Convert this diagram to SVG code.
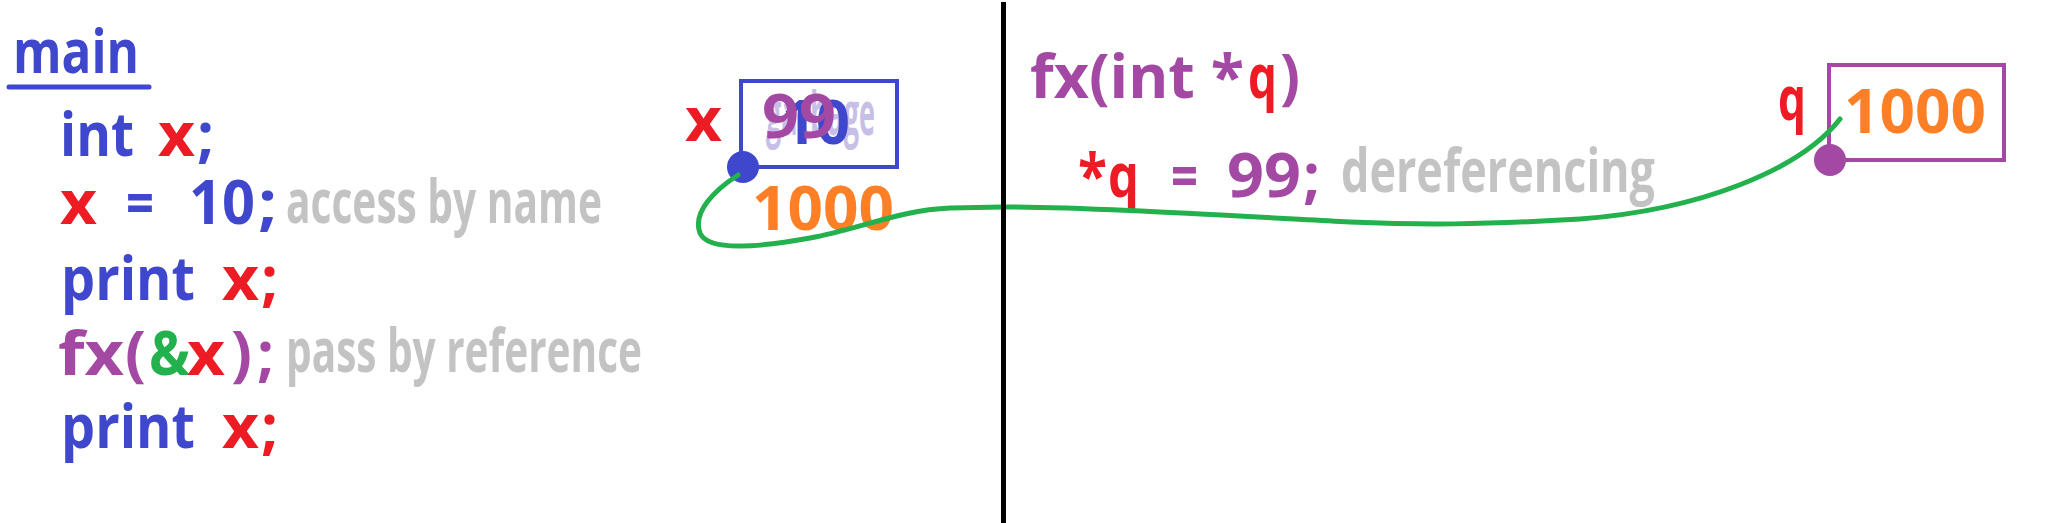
<svg xmlns="http://www.w3.org/2000/svg" width="2060" height="523" viewBox="0 0 2060 523">
<style>
.c{font-family:"Open Sans","DejaVu Sans",sans-serif;font-weight:700;font-size:61px}
.k{font-family:"Open Sans","DejaVu Sans",sans-serif;font-weight:700;font-size:60px;fill:#c3c3c3}
.b{fill:#3f48cc}.r{fill:#ed1c24}.p{fill:#a349a4}.gr{fill:#22b14c}.o{fill:#ff7f27}.lv{fill:#c8bfe7}
</style>
<rect width="2060" height="523" fill="#ffffff"/>
<g id="main-code">
<text class="c b" x="13" y="73" font-size="58" textLength="126" lengthAdjust="spacingAndGlyphs">main</text>
<line x1="9" y1="87" x2="149" y2="87" stroke="#3f48cc" stroke-width="5" stroke-linecap="round"/>
<text class="c b" x="60" y="156" textLength="74" lengthAdjust="spacingAndGlyphs">int</text>
<text class="c r" x="158" y="156" textLength="37" lengthAdjust="spacingAndGlyphs">x</text>
<text class="c b" x="197" y="156" textLength="17" lengthAdjust="spacingAndGlyphs">;</text>
<text class="c r" x="60" y="224" textLength="37" lengthAdjust="spacingAndGlyphs">x</text>
<text class="c b" x="126" y="224" textLength="28" lengthAdjust="spacingAndGlyphs">=</text>
<text class="c b" x="189" y="224" textLength="66" lengthAdjust="spacingAndGlyphs">10</text>
<text class="c b" x="258" y="224" textLength="19" lengthAdjust="spacingAndGlyphs">;</text>
<text class="k" x="286" y="223" textLength="316" lengthAdjust="spacingAndGlyphs">access by name</text>
<text class="c b" x="61" y="300" textLength="134" lengthAdjust="spacingAndGlyphs">print</text>
<text class="c r" x="222" y="300" textLength="37" lengthAdjust="spacingAndGlyphs">x</text>
<text class="c r" x="261" y="300" textLength="17" lengthAdjust="spacingAndGlyphs">;</text>
<text class="c p" x="58" y="375" textLength="66" lengthAdjust="spacingAndGlyphs">fx</text>
<text class="c p" x="125" y="375" textLength="21" lengthAdjust="spacingAndGlyphs">(</text>
<text class="c gr" x="149" y="375" textLength="41" lengthAdjust="spacingAndGlyphs">&amp;</text>
<text class="c r" x="187" y="375" textLength="38" lengthAdjust="spacingAndGlyphs">x</text>
<text class="c p" x="231" y="375" textLength="21" lengthAdjust="spacingAndGlyphs">)</text>
<text class="c p" x="257" y="375" textLength="17" lengthAdjust="spacingAndGlyphs">;</text>
<text class="k" x="286" y="372" textLength="356" lengthAdjust="spacingAndGlyphs">pass by reference</text>
<text class="c b" x="61" y="448" textLength="134" lengthAdjust="spacingAndGlyphs">print</text>
<text class="c r" x="222" y="448" textLength="37" lengthAdjust="spacingAndGlyphs">x</text>
<text class="c r" x="261" y="448" textLength="17" lengthAdjust="spacingAndGlyphs">;</text>
</g>
<g id="fx-code">
<text class="c p" x="1030" y="98" textLength="214" lengthAdjust="spacingAndGlyphs">fx(int *</text>
<text class="c r" x="1248" y="98" textLength="29" lengthAdjust="spacingAndGlyphs">q</text>
<text class="c p" x="1280" y="98" textLength="20" lengthAdjust="spacingAndGlyphs">)</text>
<text class="c r" x="1078" y="197" textLength="29" lengthAdjust="spacingAndGlyphs">*</text>
<text class="c r" x="1108" y="197" textLength="31" lengthAdjust="spacingAndGlyphs">q</text>
<text class="c p" x="1171" y="197" textLength="27" lengthAdjust="spacingAndGlyphs">=</text>
<text class="c p" x="1227" y="197" textLength="74" lengthAdjust="spacingAndGlyphs">99</text>
<text class="c p" x="1303" y="197" textLength="17" lengthAdjust="spacingAndGlyphs">;</text>
<text class="k" x="1341" y="192" textLength="314" lengthAdjust="spacingAndGlyphs">dereferencing</text>
</g>
<g id="node-x">
<rect x="741" y="81" width="156" height="86" fill="none" stroke="#3f48cc" stroke-width="4"/>
<text class="c r" x="685" y="141" font-size="56" textLength="37" lengthAdjust="spacingAndGlyphs">x</text>
<text class="k lv" x="766" y="135" font-size="60" textLength="109" lengthAdjust="spacingAndGlyphs">garbage</text>
<text class="c b" x="782" y="144" textLength="68" lengthAdjust="spacingAndGlyphs">10</text>
<text class="c p" x="762" y="138" font-size="68" textLength="74" lengthAdjust="spacingAndGlyphs">99</text>
<text class="c o" x="752" y="230" font-size="63" textLength="142" lengthAdjust="spacingAndGlyphs">1000</text>
<circle cx="743" cy="167" r="16" fill="#3f48cc"/>
</g>
<g id="node-q">
<rect x="1829" y="65" width="175" height="95" fill="none" stroke="#a349a4" stroke-width="4"/>
<text class="c r" x="1778" y="120" font-size="66" textLength="28" lengthAdjust="spacingAndGlyphs">q</text>
<text class="c o" x="1844" y="133" font-size="62" textLength="142" lengthAdjust="spacingAndGlyphs">1000</text>
<circle cx="1830" cy="160" r="16" fill="#a349a4"/>
</g>
<g id="connectors">
<path d="M738,175 C715,190 692,212 700,233 C708,252 760,247 810,238 C860,229 900,210 950,208 L1003,207 C1080,207 1200,214 1350,222 C1420,225 1480,225 1580,219 C1700,210 1800,170 1840,119" fill="none" stroke="#22b14c" stroke-width="5" stroke-linecap="round"/>
</g>
<g id="divider">
<line x1="1003.5" y1="2" x2="1003.5" y2="523" stroke="#000000" stroke-width="5"/>
</g>
</svg>
